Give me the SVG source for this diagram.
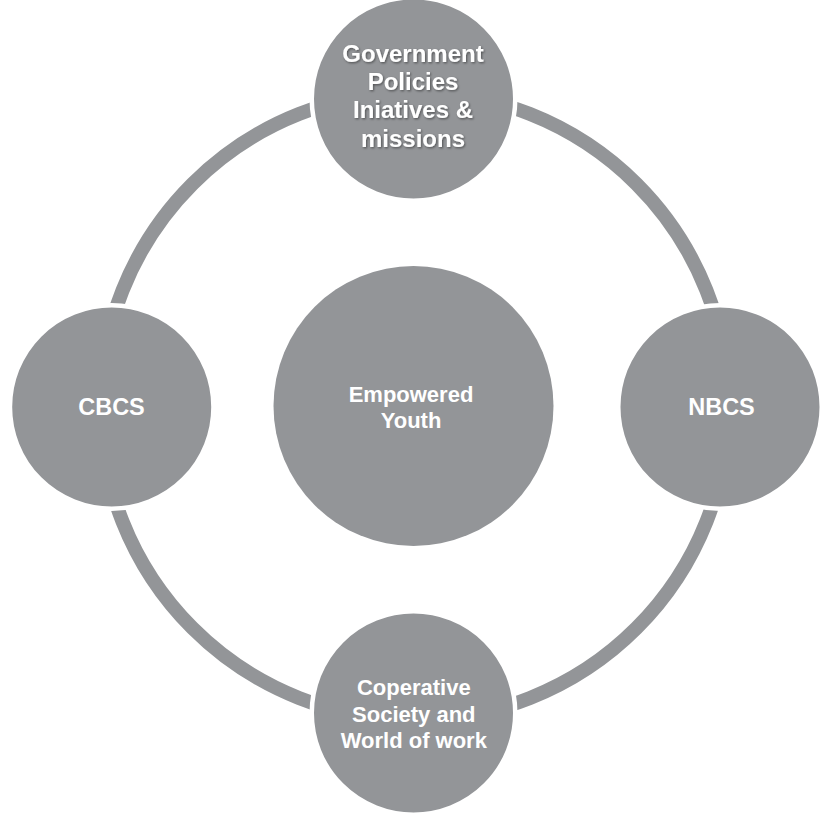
<svg xmlns="http://www.w3.org/2000/svg" width="831" height="817" viewBox="0 0 831 817">
  <defs>
    <filter id="shadow" x="-20%" y="-20%" width="140%" height="140%">
      <feDropShadow dx="1" dy="1.2" stdDeviation="0.8" flood-color="#000000" flood-opacity="0.45"/>
    </filter>
    <style>
      .node { fill: #939598; stroke: #ffffff; stroke-width: 4.5; }
      .hub { fill: #939598; }
      .ring { fill: none; stroke: #939598; stroke-width: 14; }
      .lbl { font-family: "Liberation Sans", Arial, sans-serif; font-weight: bold; fill: #ffffff; text-anchor: middle; }
    </style>
  </defs>
  <rect x="0" y="0" width="831" height="817" fill="#ffffff"/>
  <g id="connectors">
    <circle class="ring" cx="414.5" cy="406" r="314"/>
  </g>
  <g id="node-center">
    <circle class="hub" cx="413.5" cy="406" r="140"/>
    <text class="lbl" font-size="22" x="411" y="401.5">Empowered</text>
    <text class="lbl" font-size="22" x="411" y="427.5">Youth</text>
  </g>
  <g id="node-top">
    <circle class="node" cx="413.5" cy="99" r="101.75"/>
    <g filter="url(#shadow)">
      <text class="lbl" font-size="24" x="413" y="62">Government</text>
      <text class="lbl" font-size="24" x="413" y="90">Policies</text>
      <text class="lbl" font-size="24" x="413" y="118">Iniatives &amp;</text>
      <text class="lbl" font-size="24" x="413" y="146.5">missions</text>
    </g>
  </g>
  <g id="node-left">
    <circle class="node" cx="111.7" cy="407" r="101.75"/>
    <text class="lbl" font-size="23.5" x="111.5" y="415">CBCS</text>
  </g>
  <g id="node-right">
    <circle class="node" cx="720" cy="407" r="101.75"/>
    <text class="lbl" font-size="23.5" x="721.5" y="415">NBCS</text>
  </g>
  <g id="node-bottom">
    <circle class="node" cx="413.5" cy="713" r="101.75"/>
    <text class="lbl" font-size="22" x="413.8" y="695">Coperative</text>
    <text class="lbl" font-size="22" x="413.8" y="721.5">Society and</text>
    <text class="lbl" font-size="22" x="413.8" y="747.5">World of work</text>
  </g>
</svg>
